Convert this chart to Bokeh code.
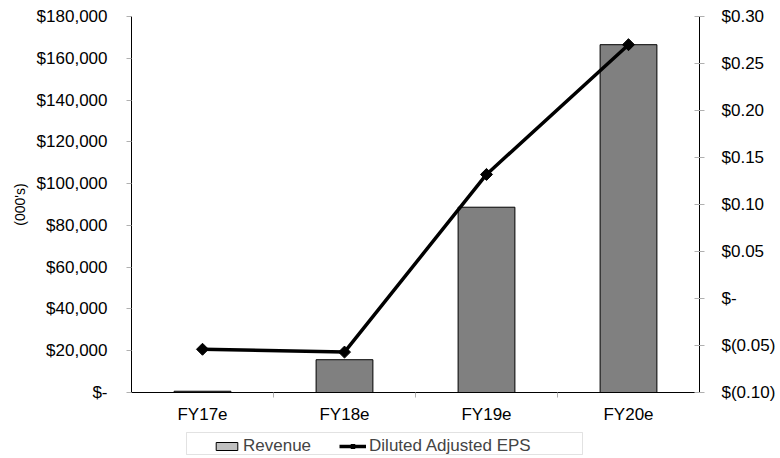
import math
from bokeh.plotting import figure
from bokeh.layouts import column
from bokeh.models import (Range1d, LinearAxis, FixedTicker, CustomJSTickFormatter,
                          Legend, LegendItem, ColumnDataSource, BoxAnnotation)
from bokeh.embed import file_html
from bokeh.resources import INLINE

categories = ["FY17e", "FY18e", "FY19e", "FY20e"]
revenue = [600, 15700, 88700, 166500]
eps = [-0.054, -0.057, 0.132, 0.270]

rev_ticks = [0, 20000, 40000, 60000, 80000, 100000, 120000, 140000, 160000, 180000]
eps_ticks = [-0.10, -0.05, 0.0, 0.05, 0.10, 0.15, 0.20, 0.25, 0.30]

FONT = "Liberation Sans"
FS = "17px"

xs = [i + 0.5 for i in range(len(categories))]
src = ColumnDataSource(dict(x=xs, rev=revenue, eps=eps, cat=categories))

p = figure(width=780, height=430, output_backend="svg", toolbar_location=None,
           x_range=Range1d(0, len(categories)), y_range=Range1d(0, 180000),
           min_border_left=131, min_border_right=81, min_border_top=16, min_border_bottom=38,
           x_axis_type=None, y_axis_type=None)
p.outline_line_color = None
p.background_fill_color = "white"
p.border_fill_color = "white"

p.extra_y_ranges = {"eps": Range1d(-0.10, 0.30)}

# bottom axis
xax = LinearAxis(ticker=FixedTicker(ticks=xs, minor_ticks=[1, 2, 3]))
xax.major_label_overrides = {x: c for x, c in zip(xs, categories)}
xax.major_tick_out = 0
xax.major_tick_in = 0
xax.minor_tick_out = 5
xax.minor_tick_in = 0
xax.minor_tick_line_color = "#b0b0b0"
xax.axis_line_color = "black"
xax.major_label_standoff = 7
xax.major_label_text_font = FONT
xax.major_label_text_font_size = FS
xax.major_label_text_color = "black"
p.add_layout(xax, "below")

# left axis
yax = LinearAxis(ticker=FixedTicker(ticks=rev_ticks, minor_ticks=[]))
yax.formatter = CustomJSTickFormatter(code="""
if (Math.abs(tick) < 1e-9) return "$-";
return "$" + Math.round(tick).toString().replace(/\\B(?=(\\d{3})+(?!\\d))/g, ",");
""")
yax.axis_label = "(000's)"
yax.axis_label_text_font = FONT
yax.axis_label_text_font_size = "14px"
yax.axis_label_text_font_style = "normal"
yax.axis_label_text_color = "black"
yax.axis_label_standoff = 6
yax.major_tick_out = 5
yax.major_tick_in = 0
yax.major_tick_line_color = "#b0b0b0"
yax.minor_tick_line_color = None
yax.axis_line_color = "black"
yax.major_label_standoff = 19
yax.major_label_text_font = FONT
yax.major_label_text_font_size = FS
yax.major_label_text_color = "black"
p.add_layout(yax, "left")

# right axis
rax = LinearAxis(y_range_name="eps", ticker=FixedTicker(ticks=eps_ticks, minor_ticks=[]))
rax.formatter = CustomJSTickFormatter(code="""
if (Math.abs(tick) < 1e-9) return "$-";
if (tick < 0) return "$(" + (-tick).toFixed(2) + ")";
return "$" + tick.toFixed(2);
""")
rax.major_tick_out = 5
rax.major_tick_in = 5
rax.major_tick_line_color = "#b0b0b0"
rax.minor_tick_line_color = None
rax.axis_line_color = "black"
rax.major_label_standoff = 17
rax.major_label_text_font = FONT
rax.major_label_text_font_size = FS
rax.major_label_text_color = "black"
p.add_layout(rax, "right")

p.vbar(x="x", top="rev", width=0.4, bottom=0, source=src,
       fill_color="#808080", line_color="black", line_width=1)
p.line(x="x", y="eps", source=src, y_range_name="eps",
       line_color="black", line_width=3.5)
p.scatter(x="x", y="eps", source=src, y_range_name="eps", marker="square",
          angle=math.pi / 4, size=8.5, fill_color="black", line_color="black")

# legend strip below the chart (its frame is aligned with the chart's frame)
lg = figure(width=780, height=28, output_backend="svg", toolbar_location=None,
            x_range=Range1d(0, len(categories)), y_range=Range1d(1e6, 2e6),
            min_border=0, x_axis_type=None, y_axis_type=None)
lg.outline_line_color = None
lg.background_fill_color = "white"
lg.border_fill_color = "white"

# same series, out of this strip's visible range: used only for legend glyphs
sw = lg.vbar(x="x", top="rev", width=0.4, bottom=0, source=src,
             fill_color="#c0c0c0", line_color="black", line_width=1)
ll = lg.line(x="x", y="eps", source=src, line_color="black", line_width=3.5)
lp = lg.scatter(x="x", y="eps", source=src, marker="square", angle=math.pi / 4, size=8.5,
                fill_color="black", line_color="black")

box = BoxAnnotation(left=55, right=451, top=4, bottom=26,
                    left_units="screen", right_units="screen",
                    top_units="screen", bottom_units="screen",
                    fill_color=None, fill_alpha=0,
                    line_color="#a0a0a0", line_width=1)
lg.add_layout(box)

legend = Legend(items=[LegendItem(label="Revenue", renderers=[sw]),
                       LegendItem(label="Diluted Adjusted EPS", renderers=[ll, lp])],
                orientation="horizontal", location=(82, 2),
                label_text_font=FONT, label_text_font_size=FS,
                glyph_width=27, glyph_height=10, label_height=18, label_standoff=3,
                spacing=28, padding=2, margin=0,
                border_line_color=None, background_fill_alpha=0)
lg.add_layout(legend, "center")

open("out.html", "w").write(file_html(column(p, lg, spacing=0), INLINE))
